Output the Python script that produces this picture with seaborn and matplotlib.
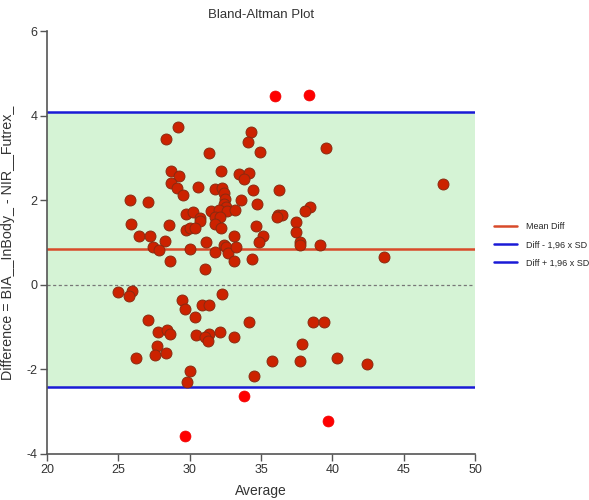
import matplotlib
matplotlib.use("Agg")
import matplotlib.pyplot as plt
import seaborn as sns
import pandas as pd

# ---- data ----
avg_in = [29.20, 28.34, 28.69, 29.27, 28.71, 29.13, 29.51, 25.82, 27.10, 29.72,
          25.87, 28.55, 29.74, 26.43, 27.24, 28.29, 27.45, 27.83, 30.02, 28.60,
          34.30, 34.07, 31.36, 34.91, 32.20, 33.48, 34.16, 33.81, 30.56, 31.80,
          32.27, 32.39, 34.46, 36.26, 32.50, 33.60, 34.70, 32.41, 32.55, 30.21,
          31.52, 32.03, 32.60, 33.20, 31.75, 32.15, 30.72, 30.74, 36.21, 36.45,
          36.12, 31.75, 32.20, 30.02, 30.37, 34.65, 33.11, 35.14, 34.86, 31.12,
          31.75, 32.41, 32.55, 32.69, 33.23, 31.05, 33.11, 34.35, 39.58, 47.71,
          38.43, 38.06, 37.43, 37.47, 37.73, 37.73, 39.11, 43.64,
          25.00, 25.98, 25.75, 29.48, 29.69, 27.08, 27.78, 28.39, 28.60, 27.73,
          27.55, 28.34, 26.22, 30.02, 29.81, 32.29, 30.86, 31.33, 30.37, 34.18,
          30.46, 31.33, 31.07, 31.26, 32.13, 33.11, 35.77, 34.53, 38.62, 39.42,
          37.89, 37.71, 40.33, 42.45]
diff_in = [3.74, 3.44, 2.69, 2.58, 2.41, 2.30, 2.12, 2.01, 1.96, 1.68,
           1.43, 1.41, 1.30, 1.16, 1.16, 1.04, 0.90, 0.83, 0.84, 0.57,
           3.61, 3.38, 3.12, 3.13, 2.70, 2.63, 2.65, 2.50, 2.31, 2.26,
           2.30, 2.18, 2.24, 2.24, 2.02, 2.01, 1.91, 1.91, 1.84, 1.73,
           1.75, 1.76, 1.74, 1.77, 1.61, 1.60, 1.58, 1.52, 1.66, 1.66,
           1.61, 1.44, 1.35, 1.34, 1.34, 1.39, 1.15, 1.16, 1.02, 1.00,
           0.78, 0.93, 0.90, 0.76, 0.90, 0.37, 0.57, 0.60, 3.23, 2.38,
           1.85, 1.75, 1.49, 1.24, 1.01, 0.93, 0.95, 0.66,
           -0.17, -0.15, -0.26, -0.37, -0.57, -0.83, -1.12, -1.07, -1.16, -1.45,
           -1.66, -1.61, -1.74, -2.03, -2.30, -0.21, -0.47, -0.47, -0.76, -0.88,
           -1.18, -1.16, -1.24, -1.33, -1.11, -1.24, -1.81, -2.15, -0.87, -0.88,
           -1.39, -1.79, -1.73, -1.87]
avg_out = [35.96, 38.38, 33.83, 29.69, 39.67]
diff_out = [4.46, 4.49, -2.64, -3.58, -3.22]

mean_diff = 0.84
lower_loa = -2.42
upper_loa = 4.08

x_range = [20, 50]
y_range = [-4, 6]
x_ticks = [20, 25, 30, 35, 40, 45, 50]
y_ticks = [-4, -2, 0, 2, 4, 6]

df_in = pd.DataFrame({"Average": avg_in, "Difference": diff_in})
df_out = pd.DataFrame({"Average": avg_out, "Difference": diff_out})

sns.set_theme(style="white")
plt.rcParams["font.family"] = ["Liberation Sans", "DejaVu Sans"]
plt.rcParams["axes.unicode_minus"] = False

fig = plt.figure(figsize=(5.89, 5.0), dpi=100)
ax = fig.add_axes([0.0798, 0.092, 0.727, 0.846])

ax.fill_between(x_range, lower_loa, upper_loa, color="#d5f3d5", zorder=0, lw=0)
ax.axhline(0, color="#777777", lw=0.9, ls=(0, (2.5, 2)), zorder=1)
l1 = ax.axhline(mean_diff, color="#d84a2a", lw=1.8, zorder=2, label="Mean Diff")
l2 = ax.axhline(lower_loa, color="#1a1ad6", lw=1.8, zorder=2, label="Diff - 1,96 x SD")
l3 = ax.axhline(upper_loa, color="#1a1ad6", lw=1.8, zorder=2, label="Diff + 1,96 x SD")

sns.scatterplot(data=df_in, x="Average", y="Difference", ax=ax, s=62,
                color="#cc2200", edgecolor="#8a2a10", linewidth=0.7,
                zorder=3, legend=False)
sns.scatterplot(data=df_out, x="Average", y="Difference", ax=ax, s=62,
                color="#ff0000", edgecolor="#ee0000", linewidth=0.5,
                zorder=3, legend=False)

ax.set_xlim(x_range)
ax.set_ylim(y_range)
ax.set_xticks(x_ticks)
ax.set_yticks(y_ticks)
ax.tick_params(axis="both", which="major", direction="out", length=5, width=1,
               color="#555555", labelsize=9, labelcolor="#333333", pad=2,
               bottom=True, left=True)
for side in ["top", "right"]:
    ax.spines[side].set_visible(False)
for side in ["left", "bottom"]:
    ax.spines[side].set_color("#555555")
    ax.spines[side].set_linewidth(1.2)

ax.set_xlabel("Average", fontsize=10, color="#333333", labelpad=6)
ax.set_ylabel("Difference = BIA__InBody_ - NIR__Futrex_", fontsize=10.3,
              color="#333333", labelpad=8)
ax.set_title("Bland-Altman Plot", fontsize=9.5, color="#333333", pad=9)

fig.legend(handles=[l1, l2, l3], loc="center left", bbox_to_anchor=(0.825, 0.51),
           frameon=False, fontsize=6.5, handlelength=2.5, labelspacing=1.0,
           handletextpad=1.0)

fig.savefig("out.png", dpi=100)
